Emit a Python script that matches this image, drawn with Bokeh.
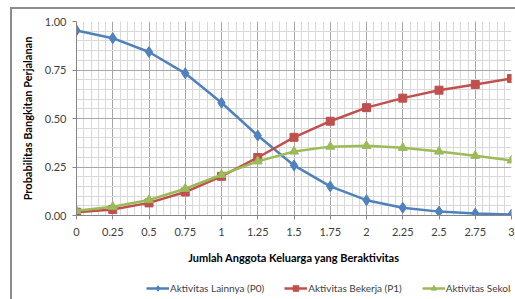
from bokeh.plotting import figure
from bokeh.layouts import column
from bokeh.models import FixedTicker, Legend, LegendItem, NumeralTickFormatter
from bokeh.embed import file_html
from bokeh.resources import INLINE

x_vals = [0, 0.25, 0.5, 0.75, 1, 1.25, 1.5, 1.75, 2, 2.25, 2.5, 2.75, 3]
x_labels = ["0", "0.25", "0.5", "0.75", "1", "1.25", "1.5", "1.75", "2", "2.25", "2.5", "2.75", "3"]
p0 = [0.954, 0.914, 0.843, 0.733, 0.581, 0.412, 0.258, 0.150, 0.079, 0.040, 0.020, 0.010, 0.005]
p1 = [0.017, 0.031, 0.065, 0.121, 0.202, 0.299, 0.403, 0.486, 0.556, 0.605, 0.646, 0.675, 0.706]
p2 = [0.024, 0.045, 0.080, 0.138, 0.210, 0.279, 0.330, 0.355, 0.359, 0.349, 0.330, 0.308, 0.284]
y_ticks = [0, 0.25, 0.5, 0.75, 1.0]
series_names = ["Aktivitas Lainnya (P0)", "Aktivitas Bekerja (P1)", "Aktivitas Sekolah (P2)"]

FONT = "Lato"
TXT = "#404040"

p = figure(width=515, height=266, x_range=(0, 3), y_range=(0, 1),
           output_backend="svg", toolbar_location=None,
           min_border_left=76, min_border_right=4, min_border_top=21, min_border_bottom=50)
p.outline_line_color = None
p.background_fill_color = "white"
p.border_fill_alpha = 0

minor_x = [round(i * 0.05, 2) for i in range(61)]
minor_y = [round(i * 0.05, 2) for i in range(21)]
p.xaxis.ticker = FixedTicker(ticks=x_vals, minor_ticks=minor_x)
p.yaxis.ticker = FixedTicker(ticks=y_ticks, minor_ticks=minor_y)
p.xaxis.major_label_overrides = {v: l for v, l in zip(x_vals, x_labels)}
p.yaxis.formatter = NumeralTickFormatter(format="0.00")

for ax in (p.xaxis[0], p.yaxis[0]):
    ax.axis_line_color = "#868686"
    ax.major_tick_line_color = "#868686"
    ax.major_tick_out = 4
    ax.major_tick_in = 0
    ax.minor_tick_out = 0
    ax.minor_tick_in = 0
    ax.major_label_text_font = FONT
    ax.major_label_text_font_size = "11px"
    ax.major_label_text_color = TXT
    ax.axis_label_text_font = FONT
    ax.axis_label_text_font_size = "11px"
    ax.axis_label_text_font_style = "bold"
    ax.axis_label_text_color = "black"

p.xaxis.major_label_standoff = 8
p.yaxis.major_label_standoff = 6
p.xaxis.axis_label = "Jumlah Anggota Keluarga yang Beraktivitas"
p.yaxis.axis_label = "Probabilitas Bangkitan Perjalanan"
p.xaxis.axis_label_standoff = 12
p.yaxis.axis_label_standoff = 8

for g in (p.xgrid[0], p.ygrid[0]):
    g.grid_line_color = "#a6a6a6"
    g.grid_line_width = 1
    g.minor_grid_line_color = "#d9d9d9"
    g.minor_grid_line_width = 1

blue, red, green = "#4F81BD", "#C0504D", "#9BBB59"
styles = [(blue, "diamond", 11), (red, "square", 8), (green, "triangle", 9)]
for ys, (c, mk, sz) in zip([p0, p1, p2], styles):
    p.line(x_vals, ys, line_color=c, line_width=2.5)
    p.scatter(x_vals, ys, marker=mk, size=sz, fill_color=c, line_color=c)

# legend strip below the chart; its renderers lie outside its visible range
leg = figure(width=515, height=33, x_range=(10, 11), y_range=(10, 11),
             x_axis_location=None, y_axis_location=None,
             output_backend="svg", toolbar_location=None,
             min_border_left=0, min_border_right=0, min_border_top=0, min_border_bottom=0)
leg.grid.visible = False
leg.outline_line_color = None
leg.background_fill_alpha = 0
leg.border_fill_alpha = 0

items = []
for name, ys, (c, mk, sz) in zip(series_names, [p0, p1, p2], styles):
    rl = leg.line(x_vals, ys, line_color=c, line_width=2.5)
    rm = leg.scatter(x_vals, ys, marker=mk, size=sz - 2, fill_color=c, line_color=c)
    items.append(LegendItem(label=name, renderers=[rl, rm]))

legend = Legend(items=items, orientation="horizontal", location=(70, 4))
legend.label_text_font = FONT
legend.label_text_font_size = "10px"
legend.label_text_color = TXT
legend.border_line_color = None
legend.background_fill_alpha = 0
legend.glyph_width = 23
legend.glyph_height = 14
legend.label_standoff = 1
legend.label_height = 14
legend.spacing = 20
legend.padding = 0
legend.margin = 0
leg.add_layout(legend, "center")

layout = column(p, leg, spacing=0)
layout.styles = {
    "background": "linear-gradient(#8c8c8c,#8c8c8c) 10px 7px / 2px 100% no-repeat, "
                  "linear-gradient(#8c8c8c,#8c8c8c) 10px 7px / 100% 2px no-repeat, white"
}

open("out.html", "w").write(file_html(layout, INLINE))
